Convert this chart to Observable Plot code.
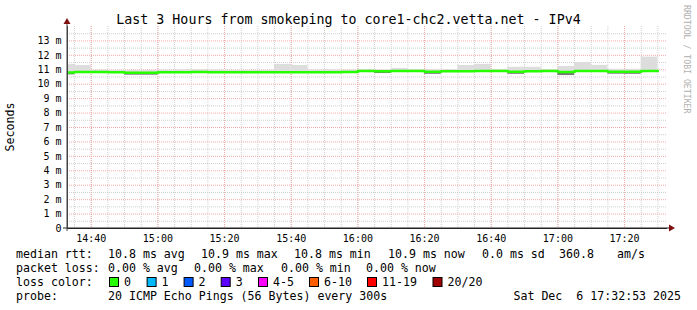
<!DOCTYPE html>
<html><head><meta charset="utf-8">
<script src="https://cdn.jsdelivr.net/npm/d3@7"></script>
<script src="https://cdn.jsdelivr.net/npm/@observablehq/plot@0.6"></script>
<style>
html,body{margin:0;padding:0;background:#fff;}
#chart svg{display:block;}
</style></head><body><div id="chart"></div>
<script>
// ---- data ----
const stepEnds = ["14:35","14:40","14:45","14:50","14:55","15:00","15:05","15:10","15:15","15:20","15:25","15:30",
  "15:35","15:40","15:45","15:50","15:55","16:00","16:05","16:10","16:15","16:20","16:25","16:30",
  "16:35","16:40","16:45","16:50","16:55","17:00","17:05","17:10","17:15","17:20","17:25","17:30"];
const medianMs = [10.82,10.84,10.84,10.83,10.80,10.80,10.83,10.83,10.84,10.83,10.83,10.83,
  10.83,10.83,10.83,10.83,10.83,10.84,10.92,10.90,10.91,10.91,10.86,10.90,
  10.90,10.92,10.92,10.86,10.90,10.91,10.85,10.91,10.91,10.87,10.86,10.91];
const smokeHiMs = [11.37,11.30,10.98,10.97,10.96,10.95,10.98,11.00,11.00,10.98,10.97,10.96,
  10.97,11.37,11.30,10.98,11.00,10.98,11.00,10.99,11.10,11.00,11.00,11.00,
  11.30,11.37,11.00,11.17,11.17,11.00,11.23,11.51,11.30,11.03,11.03,11.88];
const smokeLoMs = [10.65,10.78,10.78,10.77,10.63,10.63,10.77,10.77,10.78,10.77,10.77,10.77,
  10.77,10.77,10.77,10.77,10.77,10.78,10.86,10.74,10.85,10.85,10.69,10.84,
  10.84,10.86,10.86,10.69,10.84,10.85,10.60,10.85,10.85,10.70,10.69,10.85];
const xTickLabels = ["14:40","15:00","15:20","15:40","16:00","16:20","16:40","17:00","17:20"];
const yTickValues = [0,1,2,3,4,5,6,7,8,9,10,11,12,13];
const titleText = "Last 3 Hours from smokeping to core1-chc2.vetta.net - IPv4";
const rttStats = ["10.8 ms avg","10.9 ms max","10.8 ms min","10.9 ms now","0.0 ms sd","360.8","am/s"];
const lossStats = ["0.00 % avg","0.00 % max","0.00 % min","0.00 % now"];
const lossLabels = ["0","1","2","3","4-5","6-10","11-19","20/20"];
const lossColors = ["#26ff00","#00b8ff","#0059ff","#5e00ff","#ff00ff","#ff5e00","#ff0000","#a10000"];
const probeText = "20 ICMP Echo Pings (56 Bytes) every 300s";
const dateText = "Sat Dec  6 17:32:53 2025";

// ---- layout (positions only) ----
const rttX = [108,201,294,388,482,559,617];
const lossX = [108,194,281,366];
const boxX = [109,146.6,183.6,220.7,258,309,367,432.5];

const T = s => { const [h,m] = s.split(":").map(Number); return new Date(Date.UTC(2025,11,6,h,m)); };
const end = new Date(Date.UTC(2025,11,6,17,32,53));
const start = new Date(+end - 3*3600e3);
const steps = stepEnds.map((s,i)=>({x2:T(s), x1:new Date(+T(s)-300e3), med:medianMs[i], hi:smokeHiMs[i], lo:smokeLoMs[i]}));
const linePts = steps.map(d=>({t:d.x1, v:d.med})).concat([{t:steps[steps.length-1].x2, v:medianMs[medianMs.length-1]}]);
const majorX = xTickLabels.map(T);
const minorX = d3.utcMinute.every(5).range(start, end);
const majorY = yTickValues.filter(v=>v>0);
const minorY = d3.range(0.5, 14, 1);

const FONT = "DejaVu Sans Mono";
const plot = Plot.plot({
  width: 697, height: 310,
  marginLeft: 67, marginRight: 30, marginTop: 26, marginBottom: 82,
  style: {fontFamily: FONT, fontSize: "10px", background: "#fff", color: "#000", overflow: "visible"},
  x: {type: "utc", domain: [start, end], ticks: majorX, tickFormat: d3.utcFormat("%H:%M"), tickSize: 0, tickPadding: 6, label: null},
  y: {domain: [0, 14], ticks: yTickValues, tickFormat: d => d === 0 ? "0" : d + " m", tickSize: 0, tickPadding: 6, label: null},
  marks: [
    Plot.ruleY(minorY, {stroke: "#cfcfcf", strokeDasharray: "1,1"}),
    Plot.ruleX(minorX, {stroke: "#cfcfcf", strokeDasharray: "1,1"}),
    Plot.ruleY(majorY, {stroke: "#f3a8a8", strokeDasharray: "1,1"}),
    Plot.ruleX(majorX, {stroke: "#f3a8a8", strokeDasharray: "1,1"}),
    Plot.rect(steps, {x1:"x1", x2:"x2", y1:"lo", y2:"hi", fill:"#dddddd", clip:true}),
    Plot.rect(steps, {x1:"x1", x2:"x2", y1:"lo", y2:"med", fill:"#777777", clip:true}),
    Plot.line(linePts, {x:"t", y:"v", curve:"step-after", stroke:"#26ff00", strokeWidth:2.5, clip:true}),
    Plot.ruleY([0], {stroke:"#222"}),
    Plot.ruleX([start], {stroke:"#444"})
  ]
});
document.getElementById("chart").appendChild(plot);

const svg = d3.select(plot);
const sx = plot.scale("x"), sy = plot.scale("y");
const X0 = sx.apply(start), X1 = sx.apply(end), Y0 = sy.apply(0), YT = sy.apply(14);
const ARROW = "#7f1010";
// axis extensions + arrows
svg.append("line").attr("x1", X0-4).attr("x2", X1+3).attr("y1", Y0).attr("y2", Y0).attr("stroke", "#222");
svg.append("line").attr("x1", X0).attr("x2", X0).attr("y1", Y0+3).attr("y2", YT-3).attr("stroke", "#444");
svg.append("path").attr("d", `M${X1+2},${Y0-3.5}L${X1+8},${Y0}L${X1+2},${Y0+3.5}Z`).attr("fill", ARROW);
svg.append("path").attr("d", `M${X0-3.5},${YT-2}L${X0},${YT-8}L${X0+3.5},${YT-2}Z`).attr("fill", ARROW);

const txt = (x, y, s, size, opts={}) => {
  const t = svg.append("text").attr("x", x).attr("y", y).text(s)
    .attr("font-family", FONT).attr("font-size", size).attr("fill", opts.fill || "#000")
    .attr("text-anchor", opts.anchor || "start")
    .style("white-space", "pre");
  if (opts.transform) t.attr("transform", opts.transform);
  return t;
};
txt(348.5, 24, titleText, 13.3, {anchor: "middle"});
txt(0, 0, "Seconds", 11.6, {anchor: "middle", transform: "translate(14,127) rotate(-90)"});
txt(0, 0, "RRDTOOL / TOBI OETIKER", 8.2, {fill: "#b0b0b0", transform: "translate(684,5) rotate(90)"});

const LS = 11.6;
txt(16, 258, "median rtt:", LS);
rttStats.forEach((s,i)=>txt(rttX[i], 258, s, LS));
txt(16, 272, "packet loss:", LS);
lossStats.forEach((s,i)=>txt(lossX[i], 272, s, LS));
txt(16, 286, "loss color:", LS);
lossLabels.forEach((s,i)=>{
  svg.append("rect").attr("x", boxX[i]+0.5).attr("y", 277.5).attr("width", 9).attr("height", 9)
    .attr("fill", lossColors[i]).attr("stroke", "#000");
  txt(boxX[i]+15, 286, s, LS);
});
txt(16, 300, "probe:", LS);
txt(108, 300, probeText, LS);
txt(681, 300, dateText, LS, {anchor: "end"});
</script></body></html>
